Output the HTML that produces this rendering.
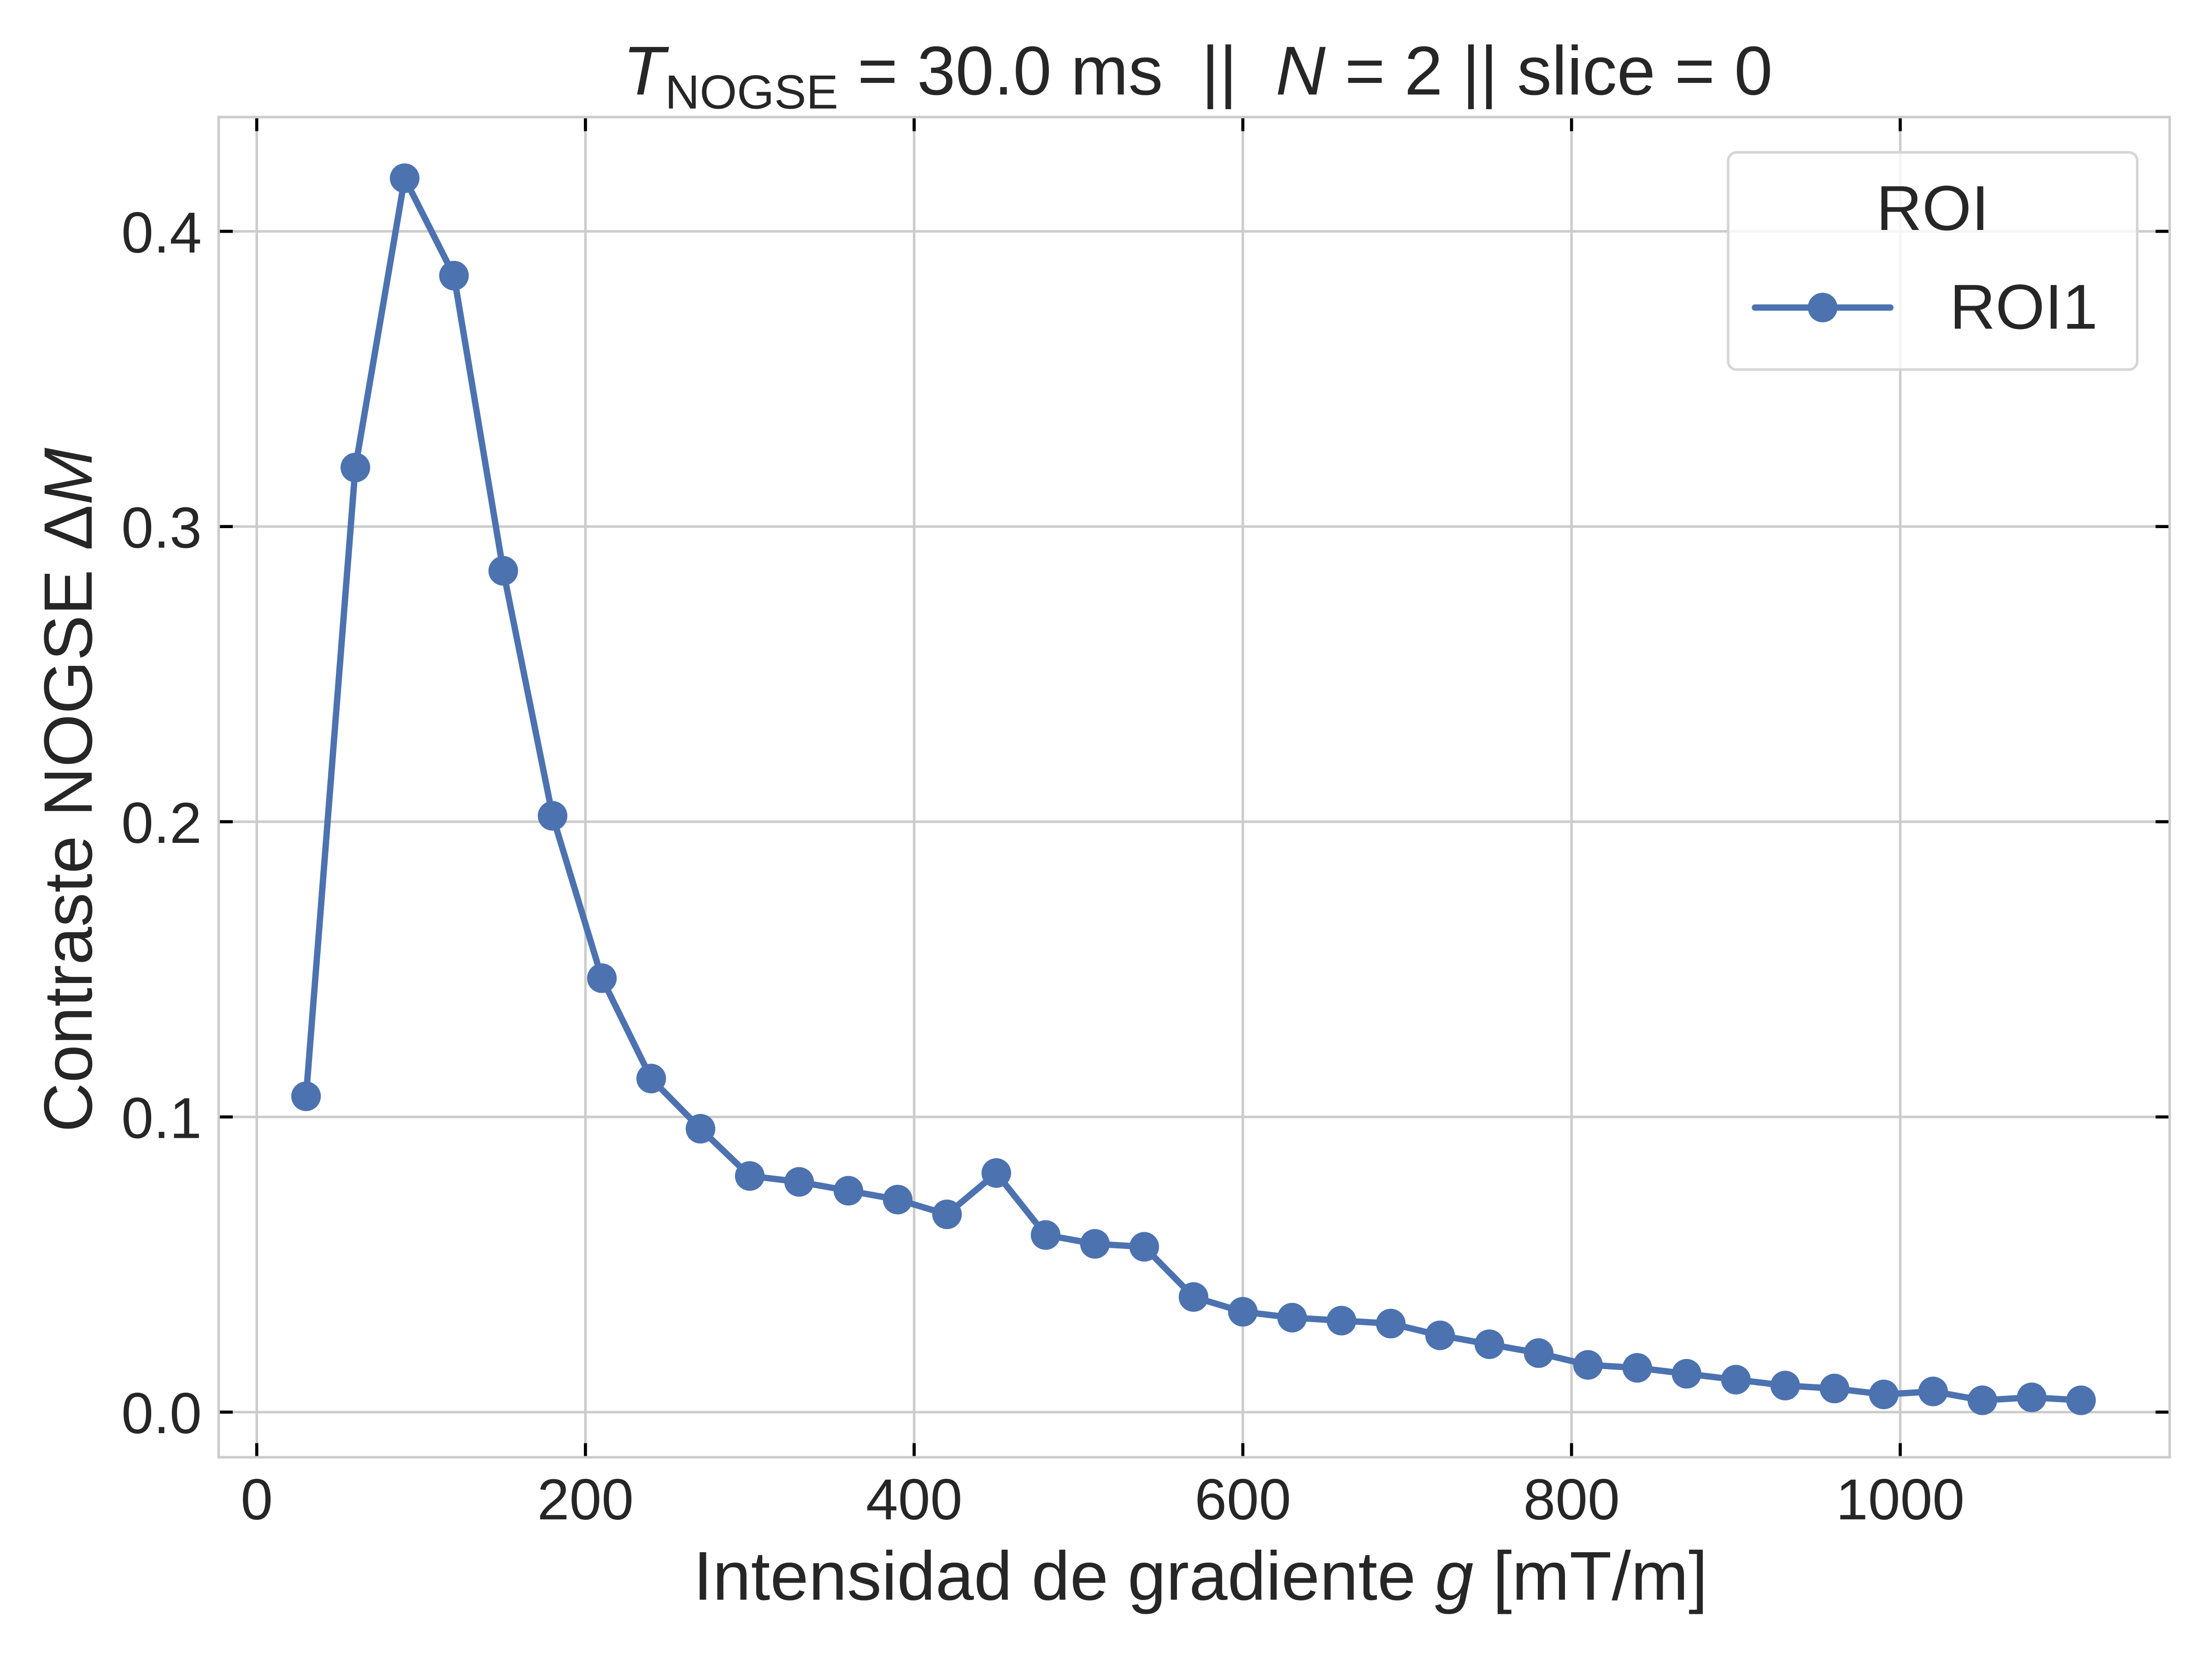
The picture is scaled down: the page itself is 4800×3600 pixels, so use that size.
<!DOCTYPE html>
<html><head><meta charset="utf-8"><style>
html,body{margin:0;padding:0;background:#fff}
svg{display:block}
text{font-family:"Liberation Sans","DejaVu Sans",sans-serif;fill:#262626}
</style></head><body>
<svg id="chart" width="4800" height="3600" viewBox="0 0 1568 1176" xmlns="http://www.w3.org/2000/svg">
<rect width="1568" height="1176" fill="#fff"/>
<g id="grid"></g>
<g id="ticks"></g>
<rect x="155" y="83" width="1383" height="950" fill="none" stroke="#cccccc" stroke-width="1.8"/>
<g id="series"></g>
<text x="849" y="67" font-size="49" text-anchor="middle" xml:space="preserve"><tspan font-style="italic">T</tspan><tspan font-size="34" dy="10">NOGSE</tspan><tspan dy="-10"> = 30.0 ms  ||  </tspan><tspan font-style="italic">N</tspan><tspan> = 2 || slice = 0</tspan></text>
<text x="851" y="1134" font-size="49" text-anchor="middle">Intensidad de gradiente <tspan font-style="italic">g</tspan> [mT/m]</text>
<text transform="translate(65,560) rotate(-90)" font-size="48.5" text-anchor="middle">Contraste NOGSE Δ<tspan font-style="italic">M</tspan></text>
<g>
<rect x="1225" y="108" width="290" height="154" rx="6" fill="#fff" fill-opacity="0.8" stroke="#d5d5d5" stroke-width="1.8"/>
<text x="1370" y="163" font-size="45" text-anchor="middle">ROI</text>
<line x1="1244" y1="218" x2="1340" y2="218" stroke="#4c72b0" stroke-width="4.5" stroke-linecap="round"/>
<circle cx="1292" cy="218" r="10.5" fill="#4c72b0"/>
<text x="1382" y="233" font-size="45">ROI1</text>
</g>
</svg>
<script>
const xValues=[30,60,90,120,150,180,210,240,270,300,330,360,390,420,450,480,510,540,570,600,630,660,690,720,750,780,810,840,870,900,930,960,990,1020,1050,1080,1110];
const yValues=[0.107,0.320,0.418,0.385,0.285,0.202,0.147,0.113,0.096,0.080,0.078,0.075,0.072,0.067,0.081,0.060,0.057,0.056,0.039,0.034,0.032,0.031,0.030,0.026,0.023,0.020,0.016,0.015,0.013,0.011,0.009,0.008,0.006,0.007,0.004,0.005,0.004];
const xTicks=[0,200,400,600,800,1000];
const yTicks=[0.0,0.1,0.2,0.3,0.4];
const yTickLabels=["0.0","0.1","0.2","0.3","0.4"];
const NS="http://www.w3.org/2000/svg";
function sx(v){return 182+v*1.165;}
function sy(v){return 1001-v*2092.5;}
function mk(t,a,p){const e=document.createElementNS(NS,t);for(const k in a)e.setAttribute(k,a[k]);p.appendChild(e);return e;}
const grid=document.getElementById('grid'),ticks=document.getElementById('ticks'),ser=document.getElementById('series');
xTicks.forEach(v=>{
  const x=sx(v);
  const g=mk('line',{x1:x,x2:x,y1:83,y2:1033,stroke:'#cccccc','stroke-width':1.8},grid);
  
  
  [[1033,1023],[83,93]].forEach(p=>{const t=mk('line',{x1:x,x2:x,y1:p[0],y2:p[1],stroke:'#000','stroke-width':2.2},ticks);
  
  });
  const l=mk('text',{x:x,y:1077,'font-size':41,'text-anchor':'middle'},ticks);l.textContent=String(v);
  
  
});
yTicks.forEach((v,i)=>{
  const y=sy(v);
  const g=mk('line',{x1:155,x2:1538,y1:y,y2:y,stroke:'#cccccc','stroke-width':1.8},grid);
  
  
  [[155,165],[1538,1528]].forEach(p=>{const t=mk('line',{x1:p[0],x2:p[1],y1:y,y2:y,stroke:'#000','stroke-width':2.2},ticks);
  
  });
  const l=mk('text',{x:143,y:y+15,'font-size':41,'text-anchor':'end'},ticks);l.textContent=yTickLabels[i];
  
  
});
const pts=xValues.map((x,i)=>sx(x)+','+sy(yValues[i])).join(' ');
const pl=mk('polyline',{points:pts,fill:'none',stroke:'#4c72b0','stroke-width':4.5,'stroke-linejoin':'round'},ser);


xValues.forEach((x,i)=>{const c=mk('circle',{cx:sx(x),cy:sy(yValues[i]),r:10.5,fill:'#4c72b0'},ser);
  
  });
</script>
</body></html>
